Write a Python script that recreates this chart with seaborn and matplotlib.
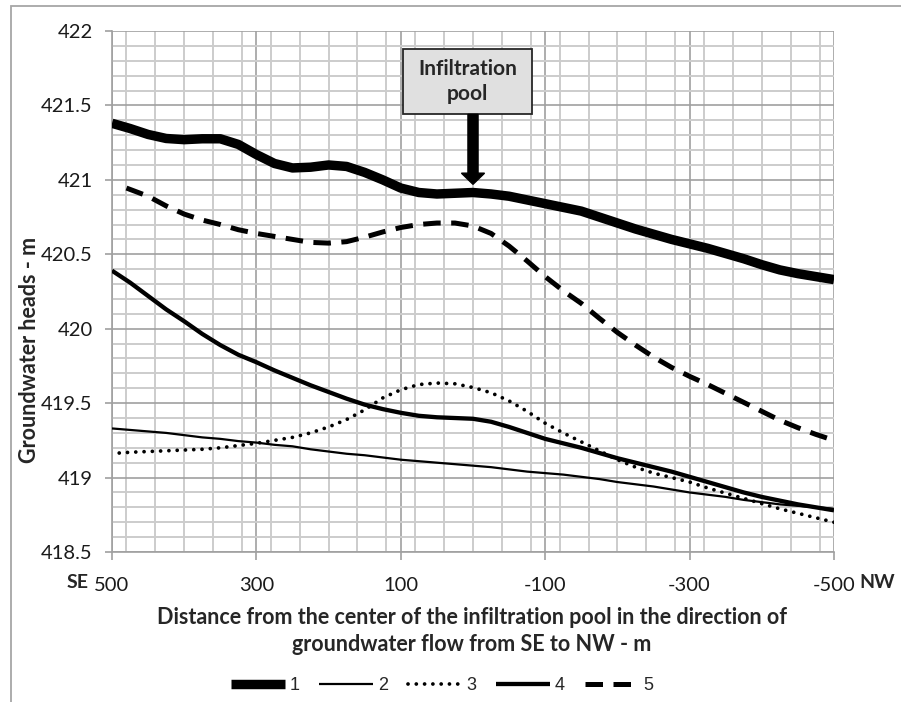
import numpy as np
import pandas as pd
import seaborn as sns
import matplotlib
matplotlib.use("Agg")
import matplotlib.pyplot as plt
from matplotlib.lines import Line2D
from matplotlib.patches import Rectangle, FancyArrow
from matplotlib.ticker import MultipleLocator, FuncFormatter, FixedLocator

# ---------------- data ----------------
distance = [500, 475, 450, 425, 400, 375, 350, 325, 300, 275, 250, 225, 200, 175, 150, 125,
            100, 75, 50, 25, 0, -25, -50, -75, -100, -125, -150, -175, -200, -225, -250,
            -275, -300, -325, -350, -375, -400, -425, -450, -475, -500]

head_1 = [421.38, 421.345, 421.305, 421.278, 421.27, 421.276, 421.276, 421.238, 421.17, 421.11,
          421.08, 421.085, 421.10, 421.09, 421.05, 421.00, 420.945, 420.915, 420.905, 420.91,
          420.915, 420.905, 420.89, 420.865, 420.84, 420.815, 420.79, 420.75, 420.71, 420.67,
          420.635, 420.60, 420.57, 420.54, 420.505, 420.47, 420.43, 420.395, 420.37, 420.35, 420.33]

head_2 = [419.33, 419.32, 419.31, 419.30, 419.285, 419.27, 419.26, 419.245, 419.235, 419.22,
          419.21, 419.19, 419.175, 419.16, 419.15, 419.135, 419.12, 419.11, 419.10, 419.09,
          419.08, 419.07, 419.055, 419.04, 419.03, 419.02, 419.005, 418.99, 418.97, 418.955,
          418.94, 418.92, 418.90, 418.885, 418.87, 418.85, 418.835, 418.82, 418.81, 418.80, 418.79]

distance_3 = [490, 475, 450, 425, 400, 375, 350, 325, 300, 275, 250, 225, 200, 175, 150, 125,
              100, 75, 50, 25, 0, -25, -50, -75, -100, -125, -150, -175, -200, -225, -250,
              -275, -300, -325, -350, -375, -400, -425, -450, -475, -500]
head_3 = [419.165, 419.17, 419.175, 419.18, 419.185, 419.19, 419.20, 419.215, 419.23, 419.25,
          419.27, 419.30, 419.34, 419.39, 419.455, 419.535, 419.59, 419.625, 419.635, 419.63,
          419.605, 419.57, 419.515, 419.445, 419.365, 419.30, 419.24, 419.18, 419.12, 419.07,
          419.03, 419.00, 418.97, 418.93, 418.895, 418.86, 418.825, 418.79, 418.76, 418.73, 418.70]

head_4 = [420.39, 420.31, 420.22, 420.13, 420.05, 419.965, 419.89, 419.825, 419.775, 419.72,
          419.67, 419.62, 419.575, 419.53, 419.49, 419.46, 419.435, 419.415, 419.405, 419.40,
          419.395, 419.375, 419.34, 419.30, 419.26, 419.23, 419.20, 419.165, 419.13, 419.10,
          419.07, 419.04, 419.005, 418.97, 418.935, 418.90, 418.87, 418.845, 418.82, 418.80, 418.78]

distance_5 = [480, 450, 425, 400, 375, 350, 325, 300, 275, 250, 225, 200, 175, 150, 125,
              100, 75, 50, 25, 0, -25, -50, -75, -100, -125, -150, -175, -200, -225, -250,
              -275, -300, -325, -350, -375, -400, -425, -450, -475, -500]
head_5 = [420.945, 420.89, 420.825, 420.77, 420.73, 420.70, 420.665, 420.64, 420.62, 420.60,
          420.58, 420.575, 420.585, 420.615, 420.65, 420.68, 420.70, 420.71, 420.71, 420.69,
          420.64, 420.555, 420.455, 420.35, 420.255, 420.17, 420.07, 419.975, 419.89, 419.81,
          419.74, 419.68, 419.625, 419.565, 419.505, 419.445, 419.385, 419.335, 419.29, 419.25]

series_labels = ["1", "2", "3", "4", "5"]
x_ticks = [500, 300, 100, -100, -300, -500]

# ---------------- style ----------------
sns.set_theme(style="white")
plt.rcParams["font.family"] = ["Lato", "DejaVu Sans"]
plt.rcParams["axes.unicode_minus"] = False

fig = plt.figure(figsize=(9.01, 7.02), dpi=100)
ax = fig.add_axes([112 / 901, 1 - 552 / 702, 722 / 901, 521 / 702])

styles = {
    "1": dict(color="black", linewidth=6.8, solid_capstyle="butt", solid_joinstyle="round"),
    "2": dict(color="black", linewidth=1.6, solid_capstyle="butt"),
    "3": dict(color="black", linewidth=2.7, linestyle=(0, (0.01, 2.2)), dash_capstyle="round"),
    "4": dict(color="black", linewidth=3.1, solid_capstyle="butt", solid_joinstyle="round"),
    "5": dict(color="black", linewidth=3.6, linestyle=(0, (3.5, 2.1)), dash_capstyle="butt"),
}

data = {
    "1": (distance, head_1),
    "2": (distance, head_2),
    "3": (distance_3, head_3),
    "4": (distance, head_4),
    "5": (distance_5, head_5),
}
order = ["2", "3", "4", "5", "1"]
for key in order:
    xs, ys = data[key]
    df = pd.DataFrame({"distance": xs, "head": ys})
    sns.lineplot(data=df, x="distance", y="head", ax=ax, sort=False,
                 estimator=None, legend=False, zorder=3, **styles[key])

ax.set_xlim(500, -500)
ax.set_ylim(418.5, 422)

ax.xaxis.set_major_locator(FixedLocator(x_ticks))
ax.xaxis.set_minor_locator(MultipleLocator(40))
ax.yaxis.set_major_locator(MultipleLocator(0.5))
ax.yaxis.set_minor_locator(MultipleLocator(0.1))
fmt = FuncFormatter(lambda v, p: f"{v:g}")
ax.yaxis.set_major_formatter(fmt)
ax.xaxis.set_major_formatter(fmt)

ax.grid(which="major", color="#a0a0a0", linewidth=1.2, zorder=1)
ax.grid(which="minor", color="#cccccc", linewidth=1.4, zorder=1)
ax.set_axisbelow(True)

for s in ["top", "right"]:
    ax.spines[s].set_visible(False)
for s in ["left", "bottom"]:
    ax.spines[s].set_color("#a0a0a0")
    ax.spines[s].set_linewidth(1.2)

ax.tick_params(axis="y", which="major", left=True, length=5, width=1.2, color="#a0a0a0",
               pad=9, labelsize=14.5, labelcolor="#1a1a1a")
ax.tick_params(axis="x", which="major", bottom=True, length=6, width=1.2, color="#a0a0a0",
               pad=12, labelsize=14.5, labelcolor="#1a1a1a")
ax.tick_params(which="minor", length=0)

ax.set_xlabel("")
ax.set_ylabel("")
fig.text(30 / 901, 1 - 350 / 702, "Groundwater heads - m", rotation=90, fontsize=15.5,
         fontweight="bold", ha="center", va="center")

fig.text(78 / 901, 1 - 582 / 702, "SE", fontsize=14, fontweight="bold", ha="center", va="center")
fig.text(877 / 901, 1 - 582 / 702, "NW", fontsize=14, fontweight="bold", ha="center", va="center")

fig.text(472 / 901, 1 - 631 / 702,
         "Distance from the center of the infiltration pool in the direction of\ngroundwater flow from SE to NW - m",
         fontsize=15.5, fontweight="bold", ha="center", va="center", linespacing=1.35)

# annotation box and arrow
ax.add_patch(Rectangle((97, 421.44), -179, 0.44, facecolor="#e0e0e0", edgecolor="#262626",
                       linewidth=1.3, zorder=5))
ax.text(7.5, 421.66, "Infiltration\npool", ha="center", va="center", fontsize=15,
        fontweight="bold", zorder=6, linespacing=1.35)
ax.add_patch(FancyArrow(0, 421.44, 0, -0.47, width=14, length_includes_head=True,
                        head_width=32, head_length=0.075, color="black", zorder=6))

# legend
handles = [Line2D([0], [0], **styles[k]) for k in series_labels]
fig.legend(handles, series_labels, loc="center", bbox_to_anchor=(442 / 901, 1 - 686 / 702), ncol=5,
           frameon=False, handlelength=3.0, handletextpad=0.25, columnspacing=1.1,
           prop={"family": "Liberation Sans", "size": 13})

# outer chart frame
fig.patches.append(Rectangle((11 / 901, -0.1), 1.2, 1 - 6 / 702 + 0.1, transform=fig.transFigure,
                             facecolor="none", edgecolor="#a6a6a6", linewidth=1.3, zorder=0))

fig.savefig("out.png", dpi=100)
